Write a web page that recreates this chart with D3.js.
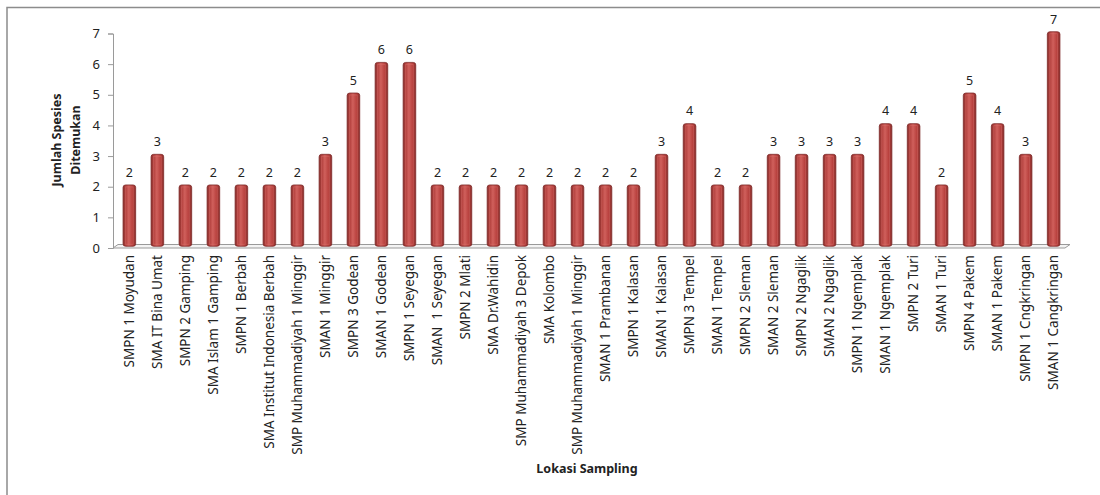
<!DOCTYPE html>
<html>
<head>
<meta charset="utf-8">
<script src="https://cdn.jsdelivr.net/npm/d3@7"></script>
<style>
  body { margin: 0; background: #fff; }
  svg { display: block; font-family: "Noto Sans", "Open Sans", sans-serif; }
</style>
</head>
<body>
<svg id="chart" width="1100" height="495"></svg>
<script>
// locations (two entries share the same name, so the band scale uses indexes)
var lokasi = [
  "SMPN 1 Moyudan", "SMA IT Bina Umat", "SMPN 2 Gamping", "SMA Islam 1 Gamping",
  "SMPN 1 Berbah", "SMA Institut Indonesia Berbah", "SMP Muhammadiyah 1 Minggir",
  "SMAN 1 Minggir", "SMPN 3 Godean", "SMAN 1 Godean", "SMPN 1 Seyegan",
  "SMAN  1 Seyegan", "SMPN 2 Mlati", "SMA Dr.Wahidin", "SMP Muhammadiyah 3 Depok",
  "SMA Kolombo", "SMP Muhammadiyah 1 Minggir", "SMAN 1 Prambanan", "SMPN 1 Kalasan",
  "SMAN 1 Kalasan", "SMPN 3 Tempel", "SMAN 1 Tempel", "SMPN 2 Sleman",
  "SMAN 2 Sleman", "SMPN 2 Ngaglik", "SMAN 2 Ngaglik", "SMPN 1 Ngemplak",
  "SMAN 1 Ngemplak", "SMPN 2 Turi", "SMAN 1 Turi", "SMPN 4 Pakem",
  "SMAN 1 Pakem", "SMPN 1 Cngkringan", "SMAN 1 Cangkringan"
];
var jumlahSpesies = [2, 3, 2, 2, 2, 2, 2, 3, 5, 6, 6, 2, 2, 2, 2, 2, 2, 2, 2, 3, 4, 2, 2, 3, 3, 3, 3, 4, 4, 2, 5, 4, 3, 7];
var yTicks = [0, 1, 2, 3, 4, 5, 6, 7];

var svg = d3.select("#chart");

// outer chart border (only top and left visible)
svg.append("path")
  .attr("d", "M7,495 V7.5 H1100")
  .attr("fill", "none")
  .attr("stroke", "#8c8c8c")
  .attr("stroke-width", 1.5);

var plotLeft = 113, plotRight = 1065, plotTop = 33.5, plotBottom = 248;
var dx = 5, dy = -3.5; // depth of the 3d floor

var x = d3.scaleBand()
  .domain(d3.range(lokasi.length))
  .range([plotLeft, plotRight])
  .paddingInner(0.55)
  .paddingOuter(0.27);

var y = d3.scaleLinear().domain([0, 7]).range([plotBottom, plotTop]);

// gradient for the cylinder bars
var defs = svg.append("defs");
var grad = defs.append("linearGradient").attr("id", "barGrad")
  .attr("x1", "0%").attr("x2", "100%").attr("y1", "0%").attr("y2", "0%");
grad.append("stop").attr("offset", "0%").attr("stop-color", "#8a2f2c");
grad.append("stop").attr("offset", "22%").attr("stop-color", "#b4423f");
grad.append("stop").attr("offset", "45%").attr("stop-color", "#d0605c");
grad.append("stop").attr("offset", "75%").attr("stop-color", "#b8413e");
grad.append("stop").attr("offset", "100%").attr("stop-color", "#8a2f2c");

// floor
svg.append("path")
  .attr("d", "M" + plotLeft + "," + plotBottom + " L" + plotRight + "," + plotBottom +
       " L" + (plotRight + dx) + "," + (plotBottom + dy) + " L" + (plotLeft + dx) + "," + (plotBottom + dy) + " Z")
  .attr("fill", "#f4f4f4")
  .attr("stroke", "#9a9a9a")
  .attr("stroke-width", 1);

// y axis
var yAxis = svg.append("g")
  .attr("transform", "translate(" + plotLeft + ",0)")
  .call(d3.axisLeft(y).tickValues(yTicks).tickSize(5).tickPadding(8).tickFormat(d3.format("d")));
yAxis.select(".domain").attr("stroke", "#9a9a9a");
yAxis.selectAll(".tick line").attr("stroke", "#9a9a9a");
yAxis.selectAll(".tick text")
  .attr("font-size", "13px")
  .attr("fill", "#222")
  .attr("font-family", "Noto Sans, sans-serif");

// bars
var bars = svg.append("g").attr("transform", "translate(" + (dx / 2) + "," + (dy / 2) + ")");
bars.selectAll("rect.bar")
  .data(jumlahSpesies)
  .enter().append("rect")
  .attr("class", "bar")
  .attr("x", function (d, i) { return x(i); })
  .attr("y", function (d) { return y(d); })
  .attr("width", x.bandwidth())
  .attr("height", function (d) { return plotBottom - y(d); })
  .attr("rx", 2.5)
  .attr("fill", "url(#barGrad)")
  .attr("stroke", "#7d2a28")
  .attr("stroke-width", 0.8);

// top highlight of each bar
bars.selectAll("rect.cap")
  .data(jumlahSpesies)
  .enter().append("rect")
  .attr("class", "cap")
  .attr("x", function (d, i) { return x(i) + 2.5; })
  .attr("y", function (d) { return y(d) + 2; })
  .attr("width", x.bandwidth() - 5)
  .attr("height", function (d) { return plotBottom - y(d) - 4; })
  .attr("fill", "none")
  .attr("stroke", "#d9716d")
  .attr("stroke-opacity", 0.5)
  .attr("stroke-width", 0.8);

// value labels
svg.append("g").selectAll("text")
  .data(jumlahSpesies)
  .enter().append("text")
  .attr("x", function (d, i) { return x(i) + x.bandwidth() / 2 + dx / 2; })
  .attr("y", function (d) { return y(d) - 10; })
  .attr("text-anchor", "middle")
  .attr("font-size", "12.5px")
  .attr("fill", "#222")
  .text(function (d) { return d; });

// category labels, rotated
svg.append("g").selectAll("text")
  .data(lokasi)
  .enter().append("text")
  .attr("transform", function (d, i) {
    return "translate(" + (x(i) + x.bandwidth() / 2 + dx / 2 + 4.5) + "," + (plotBottom + 7) + ") rotate(-90)";
  })
  .attr("text-anchor", "end")
  .attr("font-size", "13.5px")
  .attr("fill", "#222")
  .style("white-space", "pre")
  .text(function (d) { return d; });

// axis titles
var yTitle = svg.append("text")
  .attr("transform", "translate(67,140) rotate(-90)")
  .attr("text-anchor", "middle")
  .attr("font-size", "12.5px")
  .attr("font-weight", "bold")
  .attr("fill", "#222");
yTitle.append("tspan").attr("x", 0).attr("dy", "-0.45em").text("Jumlah Spesies");
yTitle.append("tspan").attr("x", 0).attr("dy", "1.45em").text("Ditemukan");

svg.append("text")
  .attr("x", 587)
  .attr("y", 473)
  .attr("text-anchor", "middle")
  .attr("font-size", "12.5px")
  .attr("font-weight", "bold")
  .attr("fill", "#222")
  .text("Lokasi Sampling");
</script>
</body>
</html>
